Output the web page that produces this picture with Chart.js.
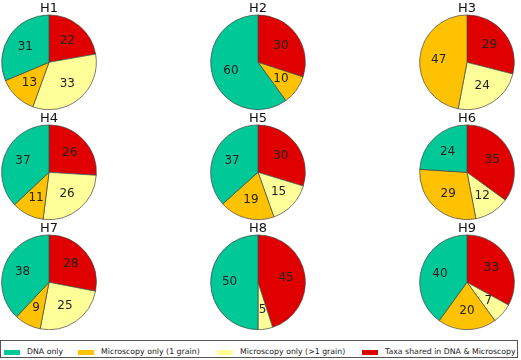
<!DOCTYPE html>
<html>
<head>
<meta charset="utf-8">
<script src="https://cdn.jsdelivr.net/npm/chart.js@4.4.1/dist/chart.umd.min.js"></script>
<style>
    body { margin: 0; background: #fff; width: 521px; height: 360px; overflow: hidden; position: relative; font-family: "DejaVu Sans", sans-serif; }
    canvas.pie { position: absolute; }
    #legend { position: absolute; left: 0; top: 340px; width: 518px; height: 18px; border: 1px solid #555; box-sizing: border-box; }
    .item { position: absolute; top: 3px; height: 16px; line-height: 16px; font-size: 7.8px; color: #222; white-space: nowrap; }
    .patch { position: absolute; top: 9px; width: 16px; height: 5px; }
</style>
</head>
<body>
<div id="legend"></div>
<script>
// Categories, in legend order
const categories = ['DNA only', 'Microscopy only (1 grain)', 'Microscopy only (>1 grain)', 'Taxa shared in DNA & Microscopy'];
const categoryColors = ['#00c896', '#ffc200', '#ffff99', '#e00000'];

// Sample titles
const samples = ['H1', 'H2', 'H3', 'H4', 'H5', 'H6', 'H7', 'H8', 'H9'];

// Percentages per category (one value per sample)
const dnaOnly      = [31, 60,  0, 37, 37, 24, 38, 50, 40];
const microOne     = [13, 10, 47, 11, 19, 29,  9,  0, 20];
const microMany    = [33,  0, 24, 26, 15, 12, 25,  5,  7];
const sharedTaxa   = [22, 30, 29, 26, 30, 35, 28, 45, 33];

// Grid positions of the pies
const colLeft = [-1, 208, 417];
const rowTop = [-2, 108, 218];

// Draw percentage labels inside each slice
const sliceLabels = {
    id: 'sliceLabels',
    afterDatasetsDraw(chart) {
        const ctx = chart.ctx;
        const meta = chart.getDatasetMeta(0);
        const values = chart.data.datasets[0].data;
        ctx.save();
        ctx.font = '12px "DejaVu Sans"';
        ctx.fillStyle = '#222';
        ctx.textAlign = 'center';
        ctx.textBaseline = 'middle';
        meta.data.forEach((arc, i) => {
            if (!values[i]) return;
            const mid = (arc.startAngle + arc.endAngle) / 2;
            const r = arc.outerRadius * 0.6;
            ctx.fillText(String(values[i]), arc.x + Math.cos(mid) * r, arc.y + Math.sin(mid) * r);
        });
        ctx.restore();
    }
};

samples.forEach((name, i) => {
    const canvas = document.createElement('canvas');
    canvas.className = 'pie';
    canvas.width = 100;
    canvas.height = 112;
    canvas.style.left = colLeft[i % 3] + 'px';
    canvas.style.top = rowTop[Math.floor(i / 3)] + 'px';
    document.body.appendChild(canvas);

    // clockwise from 12 o'clock: shared, >1 grain, 1 grain, DNA only
    new Chart(canvas.getContext('2d'), {
        type: 'pie',
        data: {
            labels: [categories[3], categories[2], categories[1], categories[0]],
            datasets: [{
                data: [sharedTaxa[i], microMany[i], microOne[i], dnaOnly[i]],
                backgroundColor: [categoryColors[3], categoryColors[2], categoryColors[1], categoryColors[0]],
                borderColor: '#444',
                borderWidth: 0.7
            }]
        },
        options: {
            responsive: false,
            animation: false,
            layout: { padding: 0 },
            plugins: {
                legend: { display: false },
                tooltip: { enabled: false },
                title: {
                    display: true,
                    text: name,
                    color: '#111',
                    font: { family: 'DejaVu Sans', size: 13, weight: 'normal' },
                    padding: { top: 3, bottom: -2 }
                }
            }
        },
        plugins: [sliceLabels]
    });
});

// Legend along the bottom
const legendX = [3, 77, 216, 361];
const legend = document.getElementById('legend');
categories.forEach((label, i) => {
    const patch = document.createElement('div');
    patch.className = 'patch';
    patch.style.left = legendX[i] + 'px';
    patch.style.background = categoryColors[i];
    legend.appendChild(patch);
    const text = document.createElement('div');
    text.className = 'item';
    text.style.left = (legendX[i] + 23) + 'px';
    text.textContent = label;
    legend.appendChild(text);
});
</script>
</body>
</html>
